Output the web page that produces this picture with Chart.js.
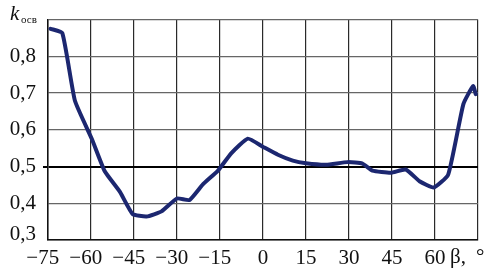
<!DOCTYPE html>
<html>
<head>
<meta charset="utf-8">
<script src="https://cdn.jsdelivr.net/npm/chart.js@4"></script>
<style>
html,body{margin:0;padding:0;background:#fff;}
#wrap{width:490px;height:272px;position:relative;}
</style>
</head>
<body>
<div id="wrap"><canvas id="c"></canvas></div>
<script>
// Data
const betaDeg = [-74.1,-70.0,-65.6,-59.7,-55.2,-49.9,-45.5,-40.6,-35.4,-30.0,-25.6,-20.9,-15.7,-11.1,-5.3,-0.1,5.2,10.4,15.0,22.0,29.5,34.7,38.2,44.6,49.8,54.6,59.6,64.6,69.9,73.3,74.2];
const kOsv    = [0.875,0.863,0.679,0.575,0.487,0.431,0.371,0.364,0.378,0.413,0.409,0.452,0.489,0.536,0.576,0.554,0.532,0.516,0.509,0.505,0.512,0.508,0.489,0.483,0.492,0.460,0.443,0.478,0.670,0.719,0.697];
const xTicks = [-75,-60,-45,-30,-15,0,15,30,45,60,75];
const yTicks = [0.3,0.4,0.5,0.6,0.7,0.8,0.9];
const xAxisTitle = 'β,';
const xAxisUnit = '°';
const yAxisTitle = 'k';
const yAxisSub = 'осв';

const points = betaDeg.map((b,i)=>({x:b,y:kOsv[i]}));
const FONT = "'Liberation Serif', 'Times New Roman', serif";
const fmtY = v => v.toFixed(1).replace('.',',');

const labelPlugin = {
  id:'labels',
  afterDraw(chart){
    const ctx = chart.ctx;
    const ys = chart.scales.y;
    ctx.save();
    ctx.fillStyle = '#111';
    ctx.textBaseline = 'alphabetic';
    ctx.textAlign = 'left';
    ctx.font = "italic 21px " + FONT;
    ctx.fillText(yAxisTitle, 10, 20);
    ctx.font = "11px " + FONT;
    ctx.fillText(yAxisSub, 21, 23);
    ctx.font = "21px " + FONT;
    ctx.fillText(xAxisTitle, 450, 263);
    ctx.fillText(xAxisUnit, 476, 263);
    // lowest y tick label, raised above the x labels as in the reference
    ctx.textAlign = 'right';
    ctx.textBaseline = 'middle';
    ctx.fillText(fmtY(yTicks[0]), 36, ys.getPixelForValue(yTicks[0]) - 6);
    ctx.restore();
  }
};

new Chart(document.getElementById('c'), {
  type:'line',
  data:{datasets:[{
    data:points,
    borderColor:'#1c2770',
    borderWidth:4,
    pointRadius:0,
    tension:0.15,
    fill:false,
    borderJoinStyle:'round',
    borderCapStyle:'round'
  }]},
  options:{
    responsive:true,
    maintainAspectRatio:false,
    animation:false,
    events:[],
    layout:{padding:{left:0,right:12,top:15,bottom:0}},
    plugins:{legend:{display:false},tooltip:{enabled:false}},
    scales:{
      x:{
        type:'linear',min:-75,max:75,
        afterBuildTicks(s){s.ticks = xTicks.map(v=>({value:v}));},
        afterFit(s){s.height = 32;},
        border:{display:true,color:'#111',width:1.5},
        grid:{color:'#2a2a2a',lineWidth:1.2,drawTicks:false},
        ticks:{
          padding:6,
          maxRotation:0,
          autoSkip:false,
          color:'#111',
          font:{family:FONT,size:21},
          callback(v){
            if (v===75) return '';
            if (v<0) return '\u2212'+Math.abs(v)+'\u2002';
            return String(v);
          }
        }
      },
      y:{
        min:0.3,max:0.9,
        afterBuildTicks(s){s.ticks = yTicks.map(v=>({value:v}));},
        afterFit(s){s.width = 48;},
        border:{display:true,color:'#111',width:1.5},
        grid:{
          color(c){ return Math.abs(c.tick.value-0.5)<1e-6 ? '#000' : '#666'; },
          lineWidth(c){ return Math.abs(c.tick.value-0.5)<1e-6 ? 2 : 1.2; },
          drawTicks:true,
          tickLength:5,
          tickColor(c){ return Math.abs(c.tick.value-0.5)<1e-6 ? '#000' : 'rgba(0,0,0,0)'; }
        },
        ticks:{
          padding:7,
          autoSkip:false,
          color:'#111',
          font:{family:FONT,size:21},
          callback(v){
            if (Math.abs(v-0.9)<1e-6 || Math.abs(v-0.3)<1e-6) return '';
            return fmtY(v);
          }
        }
      }
    }
  },
  plugins:[labelPlugin]
});
</script>
</body>
</html>
